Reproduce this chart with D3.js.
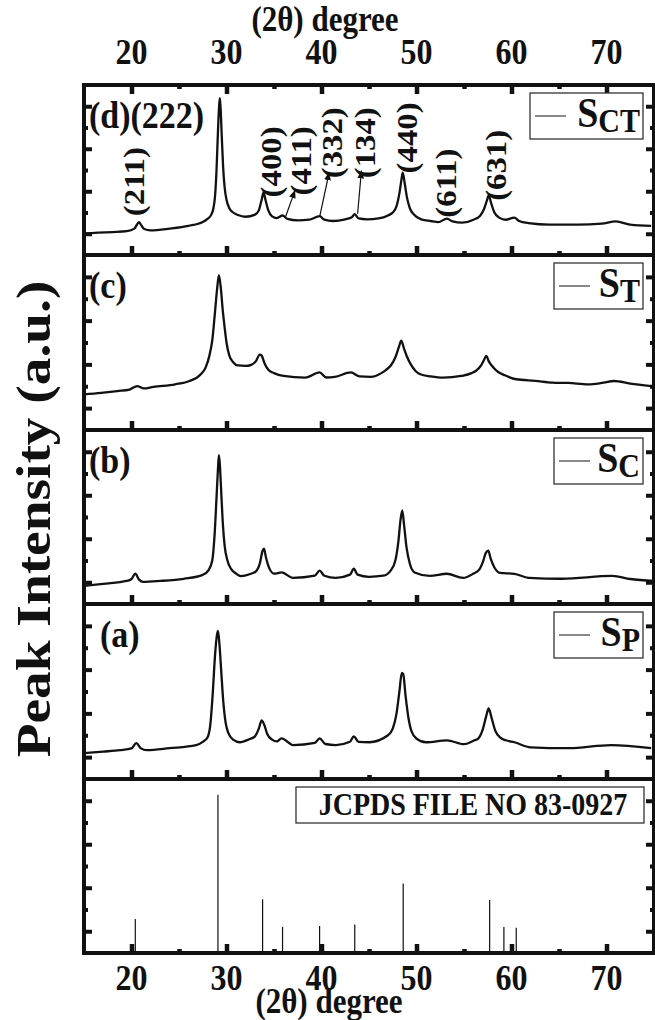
<!DOCTYPE html>
<html>
<head>
<meta charset="utf-8">
<script src="https://cdn.jsdelivr.net/npm/d3@7"></script>
<style>
  body { margin: 0; background: #fff; }
  text { font-family: "Liberation Serif", "Times New Roman", serif; font-weight: bold; fill: #111; }
</style>
</head>
<body>
<svg width="655" height="1020"></svg>
<script>
// ---- data: [2theta, intensity (a.u.)] ----
let sctData = [[15.0,0.01],[16.5,0.05],[18,0.08],[19.5,0.12],[20.3,0.24],[20.6,0.45],[20.8,0.55],[21.0,0.42],[21.3,0.24],[22,0.16],[24,0.24],[26,0.37],[27.5,0.55],[28.0,0.7],[28.4,0.9],[28.6,1.15],[28.8,1.8],[28.95,3.0],[29.1,4.8],[29.22,6.0],[29.3,6.38],[29.38,5.9],[29.5,4.6],[29.65,3.1],[29.8,2.2],[30.0,1.6],[30.3,1.2],[30.7,1.0],[31.2,0.88],[32,0.8],[33.0,0.9],[33.4,1.1],[33.7,1.6],[33.9,1.95],[34.1,1.6],[34.4,1.1],[34.8,0.82],[35.3,0.74],[35.9,0.86],[36.4,0.7],[37.5,0.63],[38.7,0.66],[39.8,0.83],[40.3,0.66],[41.2,0.6],[42.5,0.68],[43.2,0.78],[43.5,0.92],[43.9,0.72],[44.8,0.68],[46.0,0.72],[47.0,0.86],[47.5,1.0],[47.9,1.3],[48.2,1.9],[48.4,2.5],[48.55,2.88],[48.75,2.4],[49.0,1.7],[49.3,1.2],[49.7,0.92],[50.5,0.68],[51.5,0.6],[52.3,0.55],[53.2,0.71],[53.8,0.58],[54.8,0.52],[56.0,0.66],[56.7,0.85],[57.1,1.15],[57.4,1.55],[57.6,1.8],[57.85,1.45],[58.2,1.0],[58.7,0.76],[59.4,0.66],[60.3,0.76],[60.8,0.6],[61.8,0.5],[64,0.43],[67,0.43],[69.5,0.48],[71,0.58],[72.5,0.43],[74.7,0.37]];
let stData = [[15,0.63],[16.8,0.7],[18.5,0.78],[19.8,0.85],[20.6,1.01],[21.3,0.9],[22.3,0.97],[24.6,1.09],[26.1,1.24],[27.3,1.55],[27.8,1.85],[28.2,2.4],[28.5,3.1],[28.75,4.2],[29.0,5.4],[29.2,6.08],[29.4,5.5],[29.6,4.5],[29.8,3.7],[30.0,3.0],[30.3,2.4],[30.7,2.1],[31.2,1.95],[32.0,1.93],[32.6,1.98],[33.1,2.15],[33.5,2.45],[33.7,2.4],[34.0,2.05],[34.4,1.75],[35,1.6],[36,1.47],[38.3,1.39],[39.8,1.63],[40.5,1.4],[41.4,1.43],[43.1,1.63],[44,1.45],[45.2,1.43],[46.3,1.6],[46.8,1.75],[47.3,1.95],[47.8,2.35],[48.15,2.8],[48.4,3.08],[48.7,2.7],[49.0,2.35],[49.4,2.0],[49.9,1.7],[50.4,1.55],[51.5,1.45],[52.8,1.39],[54.7,1.47],[55.8,1.6],[56.3,1.72],[56.8,1.95],[57.1,2.2],[57.35,2.39],[57.6,2.15],[58.0,1.9],[58.6,1.65],[59.3,1.5],[60.5,1.32],[62.5,1.25],[64.3,1.17],[66,1.15],[68.1,1.09],[69.5,1.15],[70.8,1.24],[72.5,1.12],[74.7,1.01]];
let scData = [[15,-0.17],[17,-0.07],[19.5,0.06],[20.0,0.15],[20.4,0.39],[20.8,0.12],[21.2,0.02],[23,0.06],[25.5,0.16],[27.5,0.34],[28.1,0.55],[28.5,1.0],[28.75,2.2],[28.95,3.9],[29.1,5.2],[29.2,5.84],[29.3,5.4],[29.45,4.1],[29.6,2.8],[29.8,1.7],[30.1,1.0],[30.5,0.6],[31.0,0.4],[31.5,0.28],[32.5,0.38],[33.1,0.5],[33.5,0.85],[33.8,1.45],[33.95,1.54],[34.15,1.15],[34.5,0.65],[35,0.4],[35.8,0.45],[37,0.2],[39.3,0.3],[39.8,0.53],[40.3,0.3],[41.5,0.2],[43,0.35],[43.4,0.62],[43.8,0.35],[45,0.25],[46.5,0.3],[47.3,0.55],[47.8,1.05],[48.1,1.9],[48.3,2.8],[48.5,3.3],[48.7,2.6],[48.95,1.6],[49.3,0.85],[49.8,0.45],[51.4,0.29],[53.2,0.39],[54.9,0.2],[56.0,0.4],[56.6,0.58],[57.0,0.95],[57.3,1.35],[57.55,1.45],[57.8,1.1],[58.2,0.68],[58.8,0.43],[60.3,0.39],[61.8,0.2],[65.3,0.16],[70.6,0.29],[72.5,0.15],[75,0.06]];
let spData = [[15.0,0.18],[17,0.25],[18.8,0.32],[20.0,0.4],[20.5,0.64],[21.0,0.4],[21.6,0.32],[24.0,0.41],[26.8,0.55],[27.5,0.7],[28.0,0.9],[28.3,1.5],[28.55,2.9],[28.8,4.7],[29.0,5.6],[29.1,5.77],[29.25,5.2],[29.45,3.9],[29.65,2.6],[29.9,1.6],[30.2,1.1],[30.7,0.8],[31.4,0.68],[32.4,0.82],[33.0,0.95],[33.4,1.3],[33.7,1.68],[33.95,1.5],[34.3,1.05],[34.8,0.8],[35.3,0.72],[35.8,0.86],[37,0.55],[39.3,0.65],[39.8,0.86],[40.4,0.6],[41.5,0.55],[43.0,0.7],[43.4,0.95],[43.9,0.7],[45,0.68],[47.0,1.0],[47.5,1.3],[47.9,2.0],[48.2,3.0],[48.45,3.85],[48.6,3.8],[48.85,2.8],[49.15,1.8],[49.5,1.15],[50.0,0.85],[51,0.68],[53.2,0.77],[55,0.59],[56.0,0.75],[56.5,0.85],[57.0,1.3],[57.35,1.9],[57.6,2.23],[57.9,1.8],[58.3,1.2],[58.8,0.9],[59.4,0.77],[60.3,0.68],[62,0.45],[66,0.41],[70.5,0.55],[74.7,0.41]];

// JCPDS 83-0927 stick pattern
let jcpdsAngles = [20.4, 29.1, 33.8, 35.9, 39.8, 43.5, 48.6, 57.7, 59.2, 60.5];
let jcpdsIntensity = [21.5, 100, 34, 16.5, 17, 18, 44, 33.5, 16.5, 16];

// peak labels on (d)
let peakLabels = ['(211)', '(400)', '(411)', '(332)', '(134)', '(440)', '(611)', '(631)'];
let peakLabelAngle = [20.3, 34.7, 37.9, 41.1, 44.6, 49.0, 53.2, 58.4];
let peakLabelLevel = [2.45, 3.38, 3.43, 4.28, 4.28, 4.51, 2.38, 3.22];
let arrowFrom = [[36.2, 0.78], [39.8, 0.78], [43.8, 0.94]];
let arrowTo = [[37.2, 2.03], [40.8, 2.88], [44.2, 2.96]];

let panelNames = ['(d)(222)', '(c)', '(b)', '(a)'];
let legendSubs = ['CT', 'T', 'C', 'P'];
let xMajor = [20, 30, 40, 50, 60, 70];
let xMinor = [25, 35, 45, 55, 65];
let yMajor = [0, 2, 4, 6];
let yMinor = [1, 3, 5];

const svg = d3.select('svg');
const STRETCH = 1.13;
const xLeft = 84, xRight = 654;
const edges = [85, 255, 430, 604, 779, 953];

let x = d3.scaleLinear().domain([15, 75]).range([xLeft, xRight]);

function sText(g, px, py, str, size, anchor, rot) {
    let tf = rot ? `translate(${px},${py}) rotate(-90) scale(${STRETCH},1)`
                 : `translate(${px},${py}) scale(1,${STRETCH})`;
    return g.append('text').attr('transform', tf)
        .attr('font-size', size).attr('text-anchor', anchor || 'start').text(str);
}

function styleTicks(sel, w) {
    sel.select('.domain').remove();
    sel.selectAll('line').attr('stroke', '#111').attr('stroke-width', w);
}

svg.append('defs').append('marker')
    .attr('id', 'arr').attr('viewBox', '0 0 10 10').attr('refX', 9).attr('refY', 5)
    .attr('markerWidth', 7).attr('markerHeight', 7).attr('orient', 'auto')
    .append('path').attr('d', 'M0,1 L10,5 L0,9 z').attr('fill', '#111');

let traces = [sctData, stData, scData, spData];

for (let i = 0; i < 5; i++) {
    let top = edges[i], bottom = edges[i + 1];
    let y = d3.scaleLinear().domain([-1, 7]).range([bottom, top]);
    let g = svg.append('g');

    if (i < 4) {
        let line = d3.line().x(d => x(d[0])).y(d => y(d[1])).curve(d3.curveMonotoneX);
        g.append('path').datum(traces[i])
            .attr('fill', 'none').attr('stroke', '#111').attr('stroke-width', 2.3)
            .attr('stroke-linejoin', 'round').attr('d', line);
    } else {
        let yJ = d3.scaleLinear().domain([0, 110]).range([bottom, top]);
        g.selectAll('.stick').data(jcpdsAngles).enter().append('line')
            .attr('x1', d => x(d)).attr('x2', d => x(d))
            .attr('y1', bottom).attr('y2', (d, k) => yJ(jcpdsIntensity[k]))
            .attr('stroke', '#111').attr('stroke-width', 1.2);
    }

    // ticks, all pointing inward
    g.append('g').attr('transform', `translate(${xLeft},0)`)
        .call(d3.axisLeft(y).tickValues(yMajor).tickSize(-8).tickFormat('')).call(styleTicks, 4);
    g.append('g').attr('transform', `translate(${xLeft},0)`)
        .call(d3.axisLeft(y).tickValues(yMinor).tickSize(-4).tickFormat('')).call(styleTicks, 4);
    g.append('g').attr('transform', `translate(${xRight},0)`)
        .call(d3.axisRight(y).tickValues(yMajor).tickSize(-8).tickFormat('')).call(styleTicks, 4);
    g.append('g').attr('transform', `translate(${xRight},0)`)
        .call(d3.axisRight(y).tickValues(yMinor).tickSize(-4).tickFormat('')).call(styleTicks, 4);
    g.append('g').attr('transform', `translate(0,${bottom})`)
        .call(d3.axisBottom(x).tickValues(xMajor).tickSize(-9).tickFormat('')).call(styleTicks, 4.5);
    g.append('g').attr('transform', `translate(0,${bottom})`)
        .call(d3.axisBottom(x).tickValues(xMinor).tickSize(-4).tickFormat('')).call(styleTicks, 4.5);
    if (i === 0) {
        g.append('g').attr('transform', `translate(0,${top})`)
            .call(d3.axisTop(x).tickValues(xMajor).tickSize(-9).tickFormat('')).call(styleTicks, 4.5);
        g.append('g').attr('transform', `translate(0,${top})`)
            .call(d3.axisTop(x).tickValues(xMinor).tickSize(-4).tickFormat('')).call(styleTicks, 4.5);
    }

    g.append('rect').attr('x', xLeft).attr('y', top)
        .attr('width', xRight - xLeft).attr('height', bottom - top)
        .attr('fill', 'none').attr('stroke', '#111').attr('stroke-width', 4);

    // legend boxes
    if (i < 4) {
        let bx1 = xRight - 11, by0 = top + 8, by1 = top + 54;
        let bx0 = legendSubs[i].length > 1 ? bx1 - 113 : bx1 - 89;
        g.append('rect').attr('x', bx0).attr('y', by0).attr('width', bx1 - bx0).attr('height', by1 - by0)
            .attr('fill', '#fff').attr('stroke', '#333').attr('stroke-width', 1.3);
        let yc = (by0 + by1) / 2;
        g.append('line').attr('x1', bx0 + 5).attr('x2', bx0 + 36).attr('y1', yc).attr('y2', yc)
            .attr('stroke', '#555').attr('stroke-width', 1.4);
        let t = sText(g, bx1 - 3, yc + 11, '', 38, 'end');
        t.append('tspan').text('S');
        t.append('tspan').attr('font-size', 30).attr('dy', 4).text(legendSubs[i]);

        let lx = i === 3 ? 100 : 89;
        sText(g, lx, top + 43, panelNames[i], 34, 'start');
    } else {
        let bx0 = 296, bx1 = 644, by0 = top + 8, by1 = top + 44;
        g.append('rect').attr('x', bx0).attr('y', by0).attr('width', bx1 - bx0).attr('height', by1 - by0)
            .attr('fill', '#fff').attr('stroke', '#333').attr('stroke-width', 1.3);
        sText(g, (bx0 + bx1) / 2 + 3, by1 - 8, 'JCPDS FILE NO 83-0927', 28, 'middle');
    }

    if (i === 0) {
        peakLabels.forEach((lab, k) => {
            sText(g, x(peakLabelAngle[k]), y(peakLabelLevel[k]), lab, 29, 'middle', true)
                .attr('dy', '0.33em');
        });
        arrowFrom.forEach((p, k) => {
            g.append('line')
                .attr('x1', x(p[0])).attr('y1', y(p[1]))
                .attr('x2', x(arrowTo[k][0])).attr('y2', y(arrowTo[k][1]))
                .attr('stroke', '#111').attr('stroke-width', 1.2)
                .attr('marker-end', 'url(#arr)');
        });
    }
}

// tick labels and axis titles
xMajor.forEach(t => {
    sText(svg, x(t), 64, String(t), 32, 'middle');
    sText(svg, x(t), 990, String(t), 32, 'middle');
});
sText(svg, 325, 31, '(2\u03b8) degree', 31, 'middle');
sText(svg, 329, 1013, '(2\u03b8) degree', 31, 'middle');
sText(svg, 50, (edges[0] + edges[5]) / 2, 'Peak Intensity (a.u.)', 49, 'middle', true);
</script>
</body>
</html>
